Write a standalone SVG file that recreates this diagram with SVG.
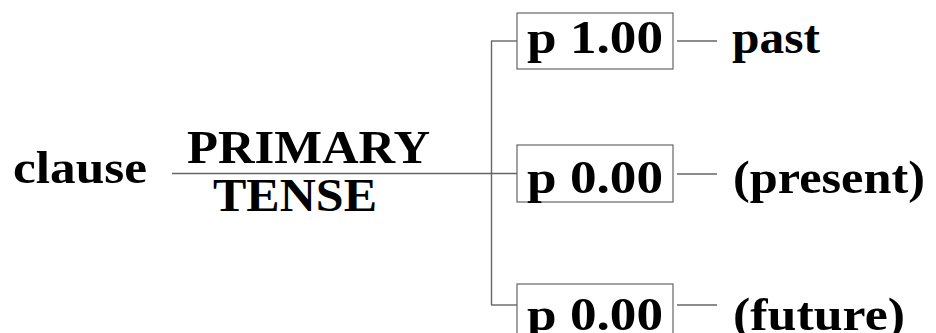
<svg xmlns="http://www.w3.org/2000/svg" width="936" height="333" viewBox="0 0 936 333">
<style>
.t{font-family:"Liberation Serif","Times New Roman",serif;font-weight:bold;font-size:46px;fill:#000}
.c line{stroke:#666;stroke-width:1.4;fill:none}
.b{fill:#fff;stroke:#666;stroke-width:1.2}
</style>
<rect width="936" height="333" fill="#fff"/>
<g id="connectors" class="c">
<line x1="172" y1="173.5" x2="517" y2="173.5"/>
<line x1="491.5" y1="41" x2="491.5" y2="305"/>
<line x1="491" y1="41" x2="517" y2="41"/>
<line x1="491" y1="305" x2="517" y2="305"/>
<line x1="677" y1="41" x2="717" y2="41"/>
<line x1="677" y1="174" x2="717" y2="174"/>
<line x1="677" y1="305" x2="717" y2="305"/>
</g>
<g id="clause"><text class="t" x="13" y="183" textLength="134" lengthAdjust="spacingAndGlyphs">clause</text></g>
<g id="system">
<text class="t" x="187" y="163" textLength="243" lengthAdjust="spacingAndGlyphs">PRIMARY</text>
<text class="t" x="213" y="211" textLength="164" lengthAdjust="spacingAndGlyphs">TENSE</text>
</g>
<g id="box-past"><rect class="b" x="517" y="13" width="156" height="56"/><text class="t" x="527" y="53" textLength="136" lengthAdjust="spacingAndGlyphs">p 1.00</text></g>
<g id="box-present"><rect class="b" x="517" y="145" width="156" height="57"/><text class="t" x="527" y="193" textLength="136" lengthAdjust="spacingAndGlyphs">p 0.00</text></g>
<g id="box-future"><rect class="b" x="517" y="284" width="156" height="57"/><text class="t" x="527" y="330" textLength="136" lengthAdjust="spacingAndGlyphs">p 0.00</text></g>
<g id="past"><text class="t" x="732" y="53" textLength="88" lengthAdjust="spacingAndGlyphs">past</text></g>
<g id="present"><text class="t" x="733" y="193" textLength="192" lengthAdjust="spacingAndGlyphs">(present)</text></g>
<g id="future"><text class="t" x="733" y="330" textLength="172" lengthAdjust="spacingAndGlyphs">(future)</text></g>
</svg>
